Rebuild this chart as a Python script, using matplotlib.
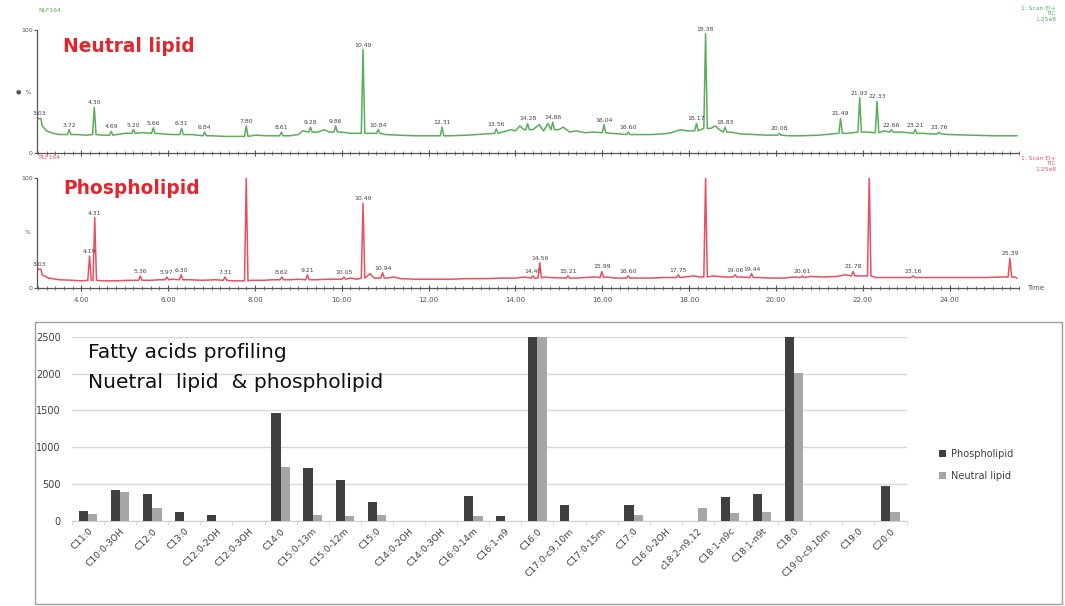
import matplotlib
matplotlib.use("Agg")
import matplotlib.pyplot as plt
from matplotlib.patches import Rectangle
from matplotlib.ticker import MultipleLocator, FixedLocator

# ---------------- Chromatogram data (retention time in min, intensity in %) ----------------
# Neutral lipid trace: baseline readings
nl_base_t = [3.10, 3.20, 3.35, 3.50, 3.90, 4.10, 4.50, 4.90, 5.00, 5.40, 5.90, 6.10, 6.55, 7.00, 7.30,
             7.60, 8.00, 8.30, 8.80, 9.00, 9.10, 9.45, 9.60, 9.70, 10.00, 10.20, 10.65, 11.00, 11.30,
             11.70, 12.00, 12.50, 12.90, 13.30, 13.70, 13.90, 14.00, 14.10, 14.20, 14.40, 14.55, 14.65,
             14.75, 15.00, 15.10, 15.25, 15.40, 15.60, 15.80, 16.20, 16.40, 16.80, 17.10, 17.40, 17.60,
             17.80, 17.95, 18.50, 18.60, 18.70, 18.95, 19.20, 19.50, 19.80, 20.30, 20.60, 21.00, 21.30,
             21.65, 22.10, 22.50, 22.90, 23.40, 23.55, 24.00, 24.50, 25.00, 25.55]
nl_base_v = [22, 18, 16, 15, 15, 14.5, 14.5, 15.5, 16, 16.5, 15.5, 15, 15, 14, 13.5,
             13.5, 14.5, 14, 14, 15, 18, 17, 19, 17, 17, 16, 16, 15, 14.5,
             14, 14, 14, 14.5, 15.5, 17, 19, 18, 22, 19, 19, 23, 18,
             24, 19, 21, 17, 18, 16.5, 17, 16, 15.5, 15, 15, 15.5, 16.5,
             19, 18, 20, 22, 19, 17, 15.5, 15, 14.5, 14, 14, 14.5, 15.5,
             16, 17, 18, 17, 16, 15.5, 15, 14.5, 14, 14]
# Neutral lipid peaks: apex time, apex height, local base
nl_peak_t = [3.03, 3.72, 4.30, 4.69, 5.20, 5.66, 6.31, 6.84, 7.80, 8.61, 9.28, 9.86, 10.49, 10.84,
             12.31, 13.56, 14.28, 14.86, 16.04, 16.60, 18.17, 18.38, 18.83, 20.08, 21.49, 21.93,
             22.33, 22.66, 23.21, 23.76]
nl_peak_v = [28, 19, 37, 17.5, 19, 20.5, 20, 17, 22, 17, 21, 22, 84, 19,
             21, 19.5, 24, 25, 23, 17, 24, 97, 21, 16, 28, 45,
             42, 19, 19, 17]
nl_peak_b = [28, 15, 15, 14.5, 16, 16, 15, 14, 13.5, 14, 17, 17, 16, 16,
             14, 16, 19, 19, 16.5, 15, 18, 20, 17, 14.5, 16, 17,
             16.5, 17, 16, 15.5]
nl_peak_lab = [True] * len(nl_peak_t)

# Phospholipid trace: baseline readings
pl_base_t = [3.10, 3.25, 3.50, 3.80, 4.00, 4.50, 4.80, 5.10, 5.60, 5.80, 6.10, 6.50, 6.80, 7.10,
             7.50, 7.90, 8.20, 8.40, 8.80, 9.00, 9.40, 9.70, 10.20, 10.35, 10.65, 10.75, 11.05,
             11.20, 11.35, 11.70, 12.10, 12.50, 12.90, 13.30, 13.70, 14.00, 14.20, 14.48, 14.65,
             14.80, 15.40, 15.60, 15.80, 16.10, 16.30, 16.80, 17.10, 17.40, 17.90, 18.10, 18.25,
             18.55, 18.80, 19.20, 19.60, 19.90, 20.20, 20.40, 20.80, 21.10, 21.40, 21.60, 21.95,
             22.30, 22.60, 22.90, 23.40, 23.80, 24.30, 24.80, 25.20, 25.50, 25.55]
pl_base_v = [12, 9, 7.5, 7, 6.5, 6.5, 6.5, 7, 7, 7.5, 8, 7.5, 7, 7.5,
             6.5, 7, 7, 7.5, 7.5, 8, 7.5, 8, 9, 8, 13, 9, 9,
             10, 8.5, 8, 8, 8, 8.5, 8.5, 9, 9, 10, 9, 10,
             9.5, 9, 9.5, 10, 10, 9, 9, 9, 9.5, 10, 11, 10,
             11, 10, 10, 9.5, 9, 9, 10, 10.5, 10, 10.5, 12, 11,
             9.5, 9.5, 9.5, 9.5, 9.5, 9.5, 9.5, 10, 10, 9]
pl_peak_t = [3.03, 4.19, 4.31, 5.36, 5.97, 6.30, 7.31, 7.80, 8.62, 9.21, 10.05, 10.49, 10.94,
             14.40, 14.56, 15.21, 15.99, 16.60, 17.75, 18.38, 19.06, 19.44, 20.61, 21.78, 22.15,
             23.16, 25.39]
pl_peak_v = [17, 29, 64, 11, 10, 12, 10, 100, 10, 12, 10, 77, 14,
             11, 23, 11, 15, 11, 12, 100, 12, 13, 11, 15, 100,
             11, 27]
pl_peak_b = [17, 7, 7, 7, 7.5, 7.5, 7, 6.5, 7.5, 7.5, 8, 9, 9,
             9, 9, 9, 9.5, 9, 9.5, 10, 10, 9.5, 9.5, 11, 11,
             9.5, 10]
pl_peak_lab = [True, True, True, True, True, True, True, False, True, True, True, True, True,
               True, True, True, True, True, True, False, True, True, True, True, False,
               True, True]

time_ticks = [4, 6, 8, 10, 12, 14, 16, 18, 20, 22, 24]
time_tick_labels = ["4.00", "6.00", "8.00", "10.00", "12.00", "14.00", "16.00", "18.00",
                    "20.00", "22.00", "24.00"]

# ---------------- Bar chart data ----------------
categories = ["C11:0", "C10:0-3OH", "C12:0", "C13:0", "C12:0-2OH", "C12:0-3OH", "C14:0",
              "C15:0-13m", "C15:0-12m", "C15:0", "C14:0-2OH", "C14:0-3OH", "C16:0-14m",
              "C16:1-n9", "C16:0", "C17:0-c9,10m", "C17:0-15m", "C17:0", "C16:0-2OH",
              "c18:2-n9,12", "C18:1-n9c", "C18:1-n9t", "C18:0", "C19:0-c9,10m", "C19:0", "C20:0"]
phospholipid = [140, 420, 365, 120, 75, 0, 1470, 725, 555, 255, 0, 0, 345,
                70, 2500, 215, 0, 215, 0, 0, 320, 362, 2500, 0, 0, 475]
neutral_lipid = [100, 398, 180, 0, 0, 0, 738, 80, 65, 80, 0, 0, 65,
                 0, 2500, 0, 0, 80, 0, 172, 112, 118, 2007, 0, 0, 125]
bar_yticks = [0, 500, 1000, 1500, 2000, 2500]

# ---------------- Figure ----------------
W, H = 1065, 606
fig = plt.figure(figsize=(W / 100, H / 100), dpi=100)
plt.rcParams['font.family'] = ['DejaVu Sans']


def fx(px):
    return px / W


def fy(py):
    return 1 - py / H


def build(base_t, base_v, pk_t, pk_v, pk_b, w=0.04):
    pts = [(t, v) for t, v in zip(base_t, base_v) if all(abs(t - p) > w * 1.2 for p in pk_t)]
    for t, v, b in zip(pk_t, pk_v, pk_b):
        pts += [(t - w, b), (t, v), (t + w, b)]
    pts.sort()
    return [p[0] for p in pts], [p[1] for p in pts]


XL = (2.98, 25.60)
chrom_left, chrom_right = 37, 1019


def chrom_axes(top_px, bot_px, line_color, base_t, base_v, pk_t, pk_v, pk_b, pk_lab, show_labels):
    ax = fig.add_axes([fx(chrom_left), fy(bot_px), fx(chrom_right - chrom_left), (bot_px - top_px) / H])
    xs, ys = build(base_t, base_v, pk_t, pk_v, pk_b)
    ax.plot(xs, ys, color=line_color, lw=1.1)
    for t, v, lab in zip(pk_t, pk_v, pk_lab):
        if lab:
            ax.annotate(f"{t:.2f}", (t, v), xytext=(0, 1.5), textcoords="offset points",
                        ha="center", va="bottom", fontsize=4.4, color="#444444")
    ax.set_xlim(*XL)
    ax.set_ylim(0, 100)
    for s in ["top", "right"]:
        ax.spines[s].set_visible(False)
    for s in ["left", "bottom"]:
        ax.spines[s].set_color("#555555")
        ax.spines[s].set_linewidth(0.9)
    ax.set_yticks([0, 100])
    ax.set_yticklabels(["0", "100"], fontsize=4.5, color="#555555")
    ax.tick_params(axis="y", length=2, pad=1, colors="#555555")
    ax.xaxis.set_major_locator(FixedLocator(time_ticks))
    ax.xaxis.set_minor_locator(MultipleLocator(0.2))
    ax.tick_params(axis="x", which="major", direction="inout", length=5, color="#555555",
                   labelsize=5, labelcolor="#555555", pad=4)
    ax.tick_params(axis="x", which="minor", direction="inout", length=3, color="#666666")
    if show_labels:
        ax.set_xticklabels(time_tick_labels)
    else:
        ax.set_xticklabels([])
    ax.patch.set_alpha(0)
    return ax


green = "#5aae5a"
red = "#e8505e"
ax1 = chrom_axes(30, 153, green, nl_base_t, nl_base_v, nl_peak_t, nl_peak_v, nl_peak_b, nl_peak_lab, False)
ax2 = chrom_axes(178, 288, red, pl_base_t, pl_base_v, pl_peak_t, pl_peak_v, pl_peak_b, pl_peak_lab, True)

ax1.text(-0.006, 0.5, "\u25cf  %", transform=ax1.transAxes, ha="right", va="center",
         fontsize=4.5, color="#555555")
ax2.text(-0.006, 0.5, "%", transform=ax2.transAxes, ha="right", va="center",
         fontsize=4.5, color="#555555")
ax2.text(1.008, 0.0, "Time", transform=ax2.transAxes, ha="left", va="center",
         fontsize=5, color="#555555")

fig.text(fx(38), fy(10), "NLF164", fontsize=4.3, color=green, ha="left", va="center")
fig.text(fx(1056), fy(6), "1: Scan EI+\nTIC\n1.25e8", fontsize=4.3, color=green,
         ha="right", va="top", linespacing=1.1)
fig.text(fx(38), fy(158), "PLF164", fontsize=4.3, color=red, ha="left", va="center")
fig.text(fx(1056), fy(156), "1: Scan EI+\nTIC\n1.25e8", fontsize=4.3, color=red,
         ha="right", va="top", linespacing=1.1)

fig.text(fx(63), fy(47), "Neutral lipid", fontsize=13.4, fontweight="bold", color="#e3262e",
         ha="left", va="center")
fig.text(fx(63), fy(188), "Phospholipid", fontsize=13.4, fontweight="bold", color="#e3262e",
         ha="left", va="center")

# ---------------- Bar chart ----------------
fig.patches.append(Rectangle((fx(35), fy(604)), fx(1027), 282 / H, transform=fig.transFigure,
                             fill=False, edgecolor="#a0a0a0", lw=1.0))
axb = fig.add_axes([fx(72), fy(521), fx(834.5), 184.3 / H])
x = list(range(len(categories)))
bw = 0.29
axb.bar([i - bw / 2 for i in x], phospholipid, width=bw, color="#404040", label="Phospholipid", zorder=3)
axb.bar([i + bw / 2 for i in x], neutral_lipid, width=bw, color="#a6a6a6", label="Neutral lipid", zorder=3)
axb.set_xlim(-0.5, len(categories) - 0.5)
axb.set_ylim(0, 2500)
axb.set_yticks(bar_yticks)
axb.set_yticklabels([str(v) for v in bar_yticks], fontsize=7, color="#404040")
axb.yaxis.grid(True, color="#d9d9d9", lw=1.0, zorder=0)
axb.set_axisbelow(True)
axb.tick_params(axis="y", length=0, pad=8)
for s in ["top", "right", "left"]:
    axb.spines[s].set_visible(False)
axb.spines["bottom"].set_color("#d0d0d0")
axb.set_xticks(x)
axb.set_xticklabels(categories, rotation=45, ha="right", rotation_mode="anchor",
                    fontsize=6.6, color="#404040")
axb.tick_params(axis="x", which="major", length=0, pad=4)
axb.xaxis.set_minor_locator(FixedLocator([i - 0.5 for i in range(len(categories) + 1)]))
axb.tick_params(axis="x", which="minor", length=3, color="#d0d0d0")

fig.text(fx(88), fy(352), "Fatty acids profiling", fontsize=14.6, color="#111111",
         ha="left", va="center")
fig.text(fx(88), fy(382), "Nuetral  lipid  & phospholipid", fontsize=14.6, color="#111111",
         ha="left", va="center")

leg = axb.legend(loc="center left", bbox_to_anchor=(fx(930), fy(465)),
                 bbox_transform=fig.transFigure, frameon=False, fontsize=7,
                 handlelength=0.7, handleheight=0.7, labelspacing=1.2, handletextpad=0.6)
for t in leg.get_texts():
    t.set_color("#404040")

fig.savefig("out.png", dpi=100)
